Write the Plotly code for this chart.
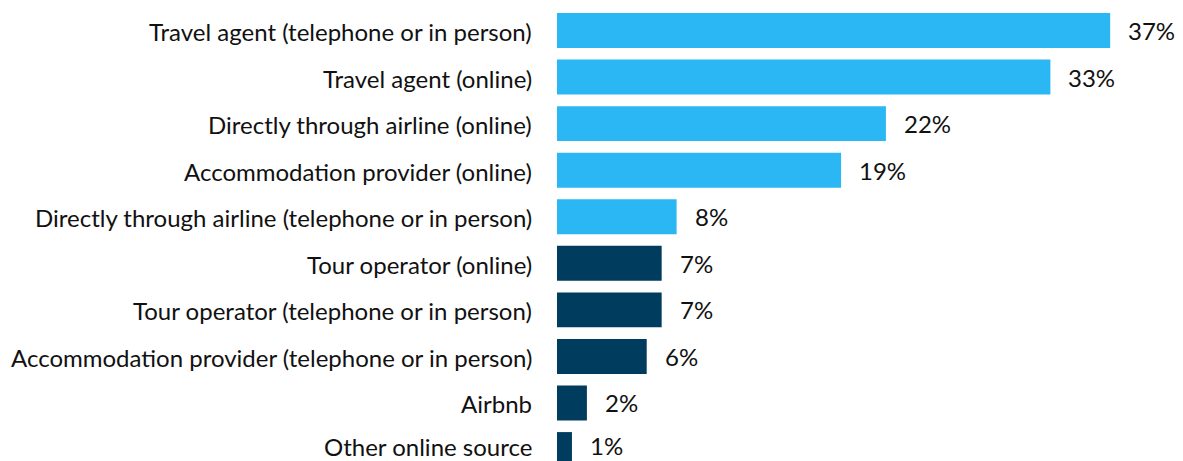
import plotly.graph_objects as go

categories = [
    "Travel agent (telephone or in person)",
    "Travel agent (online)",
    "Directly through airline (online)",
    "Accommodation provider (online)",
    "Directly through airline (telephone or in person)",
    "Tour operator (online)",
    "Tour operator (telephone or in person)",
    "Accommodation provider (telephone or in person)",
    "Airbnb",
    "Other online source",
]
values = [37, 33, 22, 19, 8, 7, 7, 6, 2, 1]
labels = ["37%", "33%", "22%", "19%", "8%", "7%", "7%", "6%", "2%", "1%"]

light_blue = "#2BB7F3"
navy = "#003C5E"
colors = [light_blue] * 5 + [navy] * 5

font_family = "Lato, 'Open Sans', sans-serif"
text_color = "#111111"
label_font = dict(size=24, color=text_color, family=font_family)

fig = go.Figure()
fig.add_trace(go.Bar(
    x=values,
    y=categories,
    orientation="h",
    marker=dict(color=colors, line=dict(width=0)),
    hoverinfo="skip",
))

last = len(categories) - 1
for i, (cat, val, lab) in enumerate(zip(categories, values, labels)):
    # bottom row is nudged up so its text stays inside the window
    dy = 4 if i == last else 0
    # category name, right-aligned against the plot edge
    fig.add_annotation(
        x=0, xref="paper", y=cat, text=cat, showarrow=False,
        xanchor="right", yanchor="middle", xshift=-23, yshift=dy - 1,
        font=label_font,
    )
    # percentage label to the right of the bar end
    fig.add_annotation(
        x=val, y=cat, text=lab, showarrow=False,
        xanchor="left", yanchor="middle", xshift=16, yshift=dy,
        font=label_font,
    )

# page body has an 8px margin, so the figure is sized to fit the window
fig.update_layout(
    width=1175,
    height=453,
    margin=dict(l=549, r=0, t=0, b=0),
    plot_bgcolor="white",
    paper_bgcolor="white",
    bargap=0.25,
    showlegend=False,
    font=dict(family=font_family, size=24, color=text_color),
)
fig.update_xaxes(range=[0, 41.87], visible=False, showgrid=False, zeroline=False)
fig.update_yaxes(
    type="category",
    range=[9.246, -0.483],
    showgrid=False,
    zeroline=False,
    showline=False,
    showticklabels=False,
    ticks="",
    automargin=False,
)

fig.write_html("out.html")
